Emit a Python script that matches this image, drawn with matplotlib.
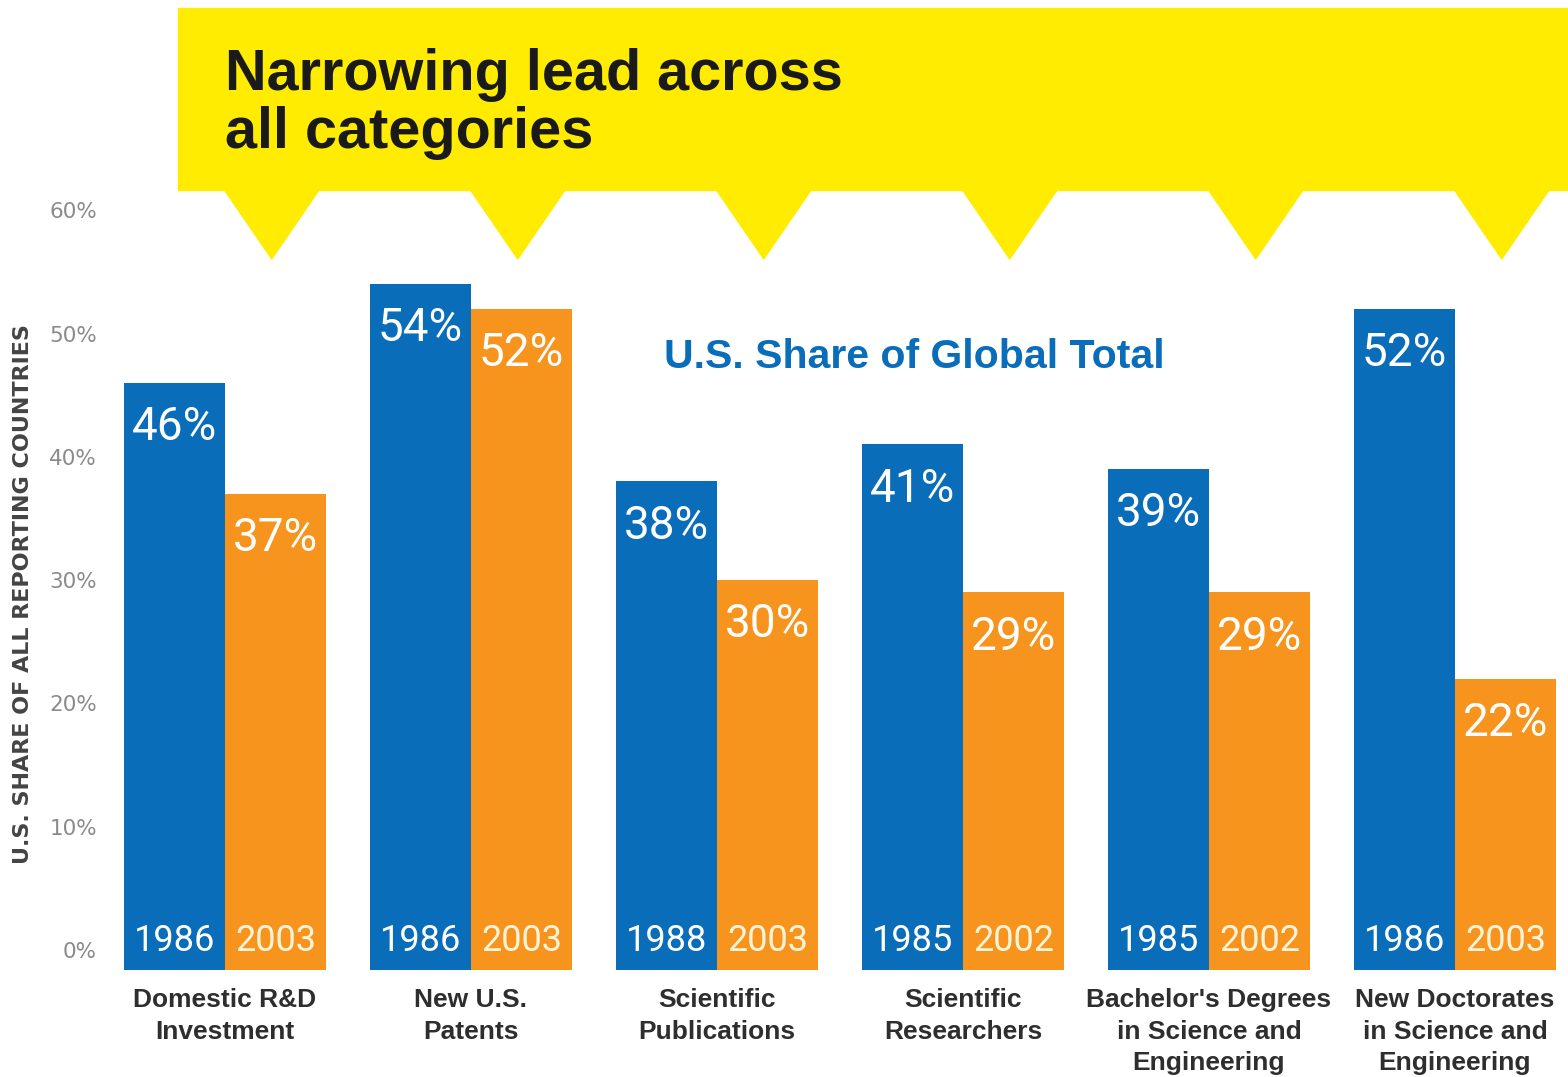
import matplotlib

matplotlib.use("Agg")

import matplotlib.pyplot as plt
import numpy as np
from matplotlib import transforms
from matplotlib.patches import Polygon, Rectangle

categories = [
    "Domestic R&D\nInvestment",
    "New U.S.\nPatents",
    "Scientific\nPublications",
    "Scientific\nResearchers",
    "Bachelor's Degrees\nin Science and\nEngineering",
    "New Doctorates\nin Science and\nEngineering",
]
early_years = ["1986", "1986", "1988", "1985", "1985", "1986"]
late_years = ["2003", "2003", "2003", "2002", "2002", "2003"]
early_share = [46, 54, 38, 41, 39, 52]
late_share = [37, 52, 30, 29, 29, 22]
y_ticks = [0, 10, 20, 30, 40, 50, 60]

BLUE = "#0A6DB9"
ORANGE = "#F7941E"
YELLOW = "#FFEC00"
NARROW = ["Roboto", "DejaVu Sans"]
BOLD = ["Liberation Sans", "DejaVu Sans"]
WIDE = ["DejaVu Sans"]

W, H = 1568, 1077
fig = plt.figure(figsize=(W / 100, H / 100), dpi=100)
fig.patch.set_facecolor("white")

# axes box in pixel terms: left 108, right 1568, top 190, bottom 970
ax = fig.add_axes([108 / W, (H - 970) / H, (W - 108) / W, 780 / H])
ax.set_facecolor("none")

floor = -(970 - 950) / 12.33
ax.set_ylim(floor, floor + 780 / 12.33)
ax.set_xlim((108 - 225) / 246, (W - 225) / 246)

x = np.arange(len(categories))
width = 0.41
early = np.array(early_share, dtype=float)
late = np.array(late_share, dtype=float)
ax.bar(x - width / 2, early - floor, bottom=floor, width=width, color=BLUE, zorder=2)
ax.bar(x + width / 2, late - floor, bottom=floor, width=width, color=ORANGE, zorder=2)

for xi, v in zip(x - width / 2, early):
    ax.annotate(f"{v:.0f}%", (xi, v), xytext=(0, -16), textcoords="offset points",
                ha="center", va="top", color="white", fontsize=33, family=NARROW, zorder=3)
for xi, v in zip(x + width / 2, late):
    ax.annotate(f"{v:.0f}%", (xi, v), xytext=(0, -16), textcoords="offset points",
                ha="center", va="top", color="white", fontsize=33, family=NARROW, zorder=3)

for xi, yr in zip(x - width / 2, early_years):
    ax.text(xi, 0.75, yr, ha="center", va="center", color="white", fontsize=26, family=NARROW, zorder=3)
for xi, yr in zip(x + width / 2, late_years):
    ax.text(xi, 0.75, yr, ha="center", va="center", color="#FFF4DA", fontsize=26, family=NARROW, zorder=3)

ax.set_xticks(x)
ax.set_xticklabels(categories, fontsize=19, fontweight="bold", color="#2e2e2e",
                   family=BOLD, linespacing=1.4)
ax.set_yticks(y_ticks)
ax.set_yticklabels([f"{t}%" for t in y_ticks], fontsize=15.5, color="#8a8a8a", family=WIDE)
ax.tick_params(axis="both", length=0)
ax.tick_params(axis="x", pad=13)
ax.tick_params(axis="y", pad=8)
for spine in ax.spines.values():
    spine.set_visible(False)

ax.set_ylabel("U.S. SHARE OF ALL REPORTING COUNTRIES", fontsize=16, fontweight="bold",
              color="#444444", family=WIDE)
ax.yaxis.set_label_coords((33 - 108) / 1460, (970 - 594) / 780)

ax.text((914 - 108) / 1460, (970 - 357) / 780, "U.S. Share of Global Total",
        transform=ax.transAxes, ha="center", va="center", color=BLUE,
        fontsize=29.5, fontweight="bold", family=BOLD)

# yellow headline banner with downward pointers
banner = Rectangle((178 / W, 1 - 190 / H), 1 - 178 / W, 182 / H,
                   transform=fig.transFigure, color=YELLOW, zorder=0)
fig.patches.append(banner)
mixed = transforms.blended_transform_factory(ax.transData, fig.transFigure)
for xi in x:
    cx = xi + 0.19
    tri = Polygon([(cx - 0.195, 1 - 189 / H), (cx + 0.195, 1 - 189 / H), (cx, 1 - 259 / H)],
                  closed=True, transform=mixed, color=YELLOW, zorder=0)
    fig.patches.append(tri)

fig.text(225 / W, 1 - 48 / H, "Narrowing lead across\nall categories", ha="left", va="top",
         fontsize=41.5, fontweight="bold", color="#1a1a1a", family=BOLD, linespacing=1.1)

fig.savefig("out.png", dpi=100)
